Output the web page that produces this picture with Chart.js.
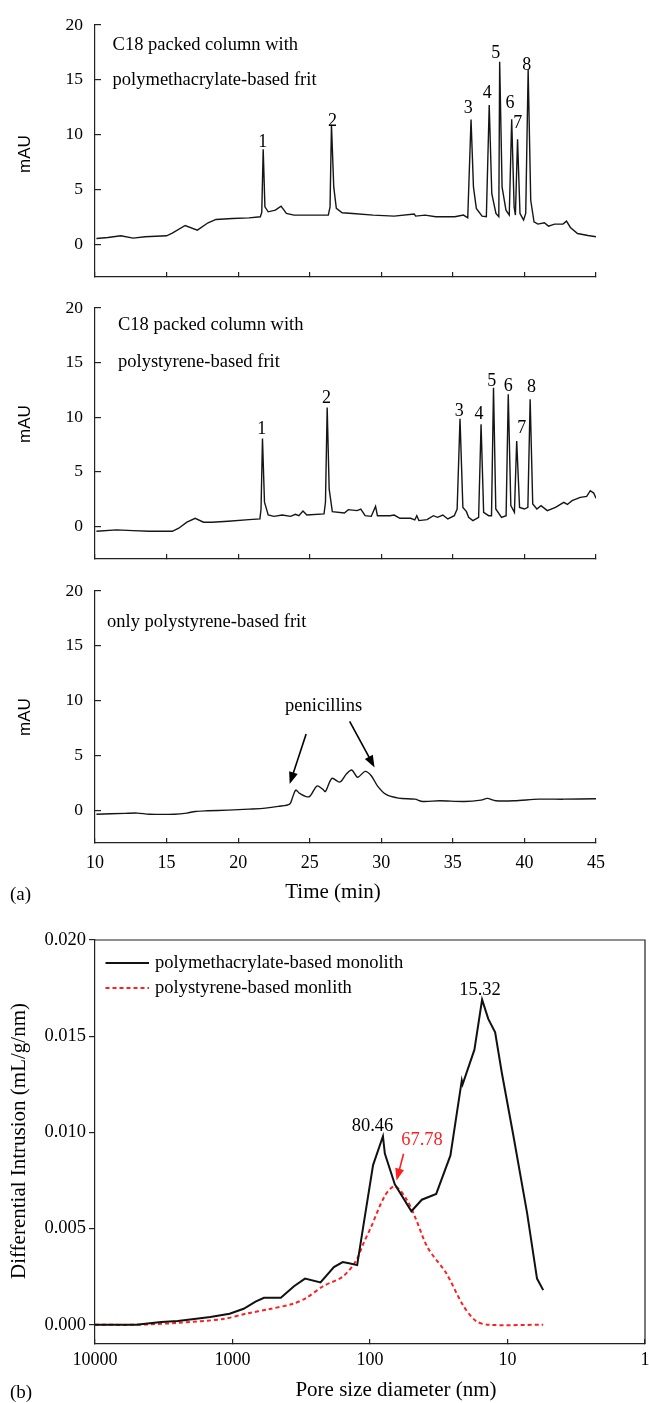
<!DOCTYPE html>
<html>
<head>
<meta charset="utf-8">
<title>Chromatograms and pore size distribution</title>
<script src="https://cdn.jsdelivr.net/npm/chart.js@4.4.0/dist/chart.umd.min.js"></script>
<style>
  body { margin: 0; background: #fff; }
  #page { position: relative; width: 649px; height: 1403px; }
  .panel { position: absolute; left: 0; width: 649px; }
</style>
</head>
<body>
<div id="page">
  <div class="panel" style="top:0px;height:290px"><canvas id="chartPMA"></canvas></div>
  <div class="panel" style="top:290px;height:285px"><canvas id="chartPS"></canvas></div>
  <div class="panel" style="top:575px;height:330px"><canvas id="chartFrit"></canvas></div>
  <div class="panel" style="top:905px;height:498px"><canvas id="chartPore"></canvas></div>
</div>
<script>
// ---- (a) chromatograms: time (min) vs absorbance (mAU) ----
const timeTicks = [10, 15, 20, 25, 30, 35, 40, 45];
const mauTicks = [0, 5, 10, 15, 20];

// C18 packed column with polymethacrylate-based frit
const timePMA = [10.1, 10.9, 11.8, 12.66, 13.5, 15.0, 15.4, 16.3, 17.15, 17.9, 18.45, 19.6, 20.76, 21.55, 21.65, 21.75, 21.87,
  22.1, 22.6, 23.0, 23.37, 23.9, 25.4, 26.3, 26.42, 26.52, 26.68, 26.86, 27.27, 28.0, 29.44, 30.9, 32.3, 32.4, 33.06, 33.8,
  35.14, 35.74, 36.04, 36.27, 36.44, 36.64, 37.04, 37.34, 37.54, 37.72, 38.01, 38.21, 38.27, 38.44, 38.71, 38.94, 39.11,
  39.28, 39.37, 39.52, 39.69, 39.94, 40.09, 40.26, 40.44, 40.67, 40.94, 41.39, 41.68, 42.11, 42.69, 42.94, 43.21, 43.71,
  44.44, 45.0];
const mauPMA = [0.52, 0.6, 0.76, 0.55, 0.67, 0.76, 1.0, 1.7, 1.28, 1.95, 2.25, 2.34, 2.4, 2.5, 2.9, 8.65, 3.4,
  2.95, 3.1, 3.47, 2.8, 2.65, 2.65, 2.65, 3.4, 10.9, 5.2, 3.26, 2.86, 2.8, 2.65, 2.56, 2.74, 2.56, 2.65, 2.5,
  2.5, 2.65, 2.4, 11.38, 5.2, 3.26, 2.56, 2.5, 12.7, 4.6, 2.8, 2.5, 16.65, 5.2, 3.1, 2.65, 11.4,
  3.4, 2.65, 9.56, 2.8, 2.2, 2.8, 15.9, 4.0, 2.04, 1.83, 1.95, 1.64, 1.83, 1.83, 2.1, 1.52, 0.97,
  0.79, 0.67];

// C18 packed column with polystyrene-based frit
const timePS = [10.1, 11.5, 12.66, 13.8, 15.4, 15.85, 16.42, 17.0, 17.58, 18.16, 19.3, 20.76, 21.52, 21.6, 21.7, 21.84,
  22.1, 22.5, 23.08, 23.66, 24.0, 24.24, 24.53, 24.8, 26.0, 26.1, 26.22, 26.36, 26.58, 27.42, 27.7, 28.3, 28.57, 28.87,
  29.3, 29.6, 29.73, 30.6, 30.9, 31.3, 32.05, 32.34, 32.48, 32.63, 33.2, 33.64, 33.93, 34.3, 34.65, 35.1, 35.3, 35.5,
  35.7, 35.95, 36.1, 36.4, 36.8, 36.97, 37.15, 37.5, 37.7, 37.84, 38.0, 38.4, 38.72, 38.87, 39.05, 39.3, 39.46, 39.66,
  40.0, 40.24, 40.4, 40.58, 40.87, 41.16, 41.6, 42.17, 42.75, 43.0, 43.33, 43.9, 44.35, 44.6, 44.84, 45.0];
const mauPS = [-0.46, -0.33, -0.4, -0.46, -0.46, -0.18, 0.37, 0.73, 0.37, 0.37, 0.46, 0.61, 0.67, 1.58, 8.05, 2.2,
  1.03, 0.91, 1.03, 0.91, 1.1, 0.97, 1.4, 1.03, 1.13, 2.2, 10.87, 3.4, 1.34, 1.22, 1.52, 1.43, 1.58, 0.97,
  0.91, 1.83, 0.97, 0.97, 1.03, 0.73, 0.73, 0.58, 0.97, 0.52, 0.61, 0.97, 0.82, 1.03, 0.67, 0.97, 1.58, 9.86,
  1.73, 1.34, 0.82, 0.52, 0.82, 9.35, 1.28, 0.97, 0.97, 12.7, 1.58, 0.82, 0.97, 12.09, 1.89, 1.28, 7.82, 1.73,
  1.58, 1.73, 11.63, 2.04, 1.58, 1.89, 1.43, 1.73, 2.19, 2.0, 2.34, 2.65, 2.74, 3.26, 3.04, 2.56];

// only polystyrene-based frit
const timeFrit = [10.1, 12.1, 12.95, 13.8, 15.56, 16.42, 17.0, 17.87, 19.3, 20.76, 21.9, 22.8, 23.6, 23.8, 24.03, 24.3,
  24.96, 25.5, 25.9, 26.1, 26.55, 27.1, 27.56, 27.94, 28.35, 28.87, 29.3, 29.73, 30.3, 31.2, 32.34, 32.9, 34.07, 35.8,
  36.97, 37.4, 38.0, 39.28, 41.0, 42.75, 45.0];
const mauFrit = [-0.37, -0.3, -0.27, -0.37, -0.37, -0.27, -0.12, -0.06, 0, 0.09, 0.18, 0.34, 0.55, 1.16, 1.83, 1.52,
  1.22, 2.2, 1.92, 1.7, 2.9, 2.56, 3.3, 3.66, 3.0, 3.54, 3.14, 2.22, 1.46, 1.1, 1.0, 0.79, 0.85, 0.79,
  0.91, 1.07, 0.85, 0.85, 1.0, 1.0, 1.04];

// ---- (b) pore size distribution ----
const poreTicks = [10000, 1000, 100, 10, 1];
const intrusionTicks = [0, 0.005, 0.010, 0.015, 0.020];

const porePMA = [10000, 5012, 3300, 2500, 1900, 1450, 1050, 830, 680, 590, 445, 357, 297, 229, 183, 158, 142, 124, 112,
  95, 80.5, 78, 66, 50, 42, 33, 26, 21.5, 21.2, 17.4, 15.3, 13.8, 12.3, 11.0, 9.1, 7.2, 6.1, 5.5];
const intrusionPMA = [0, 0, 0.00014, 0.0002, 0.0003, 0.0004, 0.00057, 0.00083, 0.0012, 0.0014, 0.0014, 0.0020, 0.0024,
  0.0022, 0.0030, 0.00326, 0.0032, 0.0031, 0.0051, 0.0083, 0.0098, 0.0089, 0.0073, 0.0059, 0.0065, 0.0068, 0.0088,
  0.0127, 0.0125, 0.0143, 0.0169, 0.0159, 0.0152, 0.0131, 0.0099, 0.0058, 0.0024, 0.0018];

const porePS = [10000, 5012, 2500, 1170, 770, 550, 360, 290, 220, 158, 127, 112, 98, 78, 66, 54, 47, 38, 28, 21, 17,
  13.8, 5.5];
const intrusionPS = [0, 0, 0.0001, 0.0003, 0.0006, 0.0008, 0.0011, 0.0014, 0.0020, 0.0025, 0.0033, 0.0042, 0.0051,
  0.0067, 0.0072, 0.0065, 0.0056, 0.0040, 0.0027, 0.0010, 0.0002, 0, 0];

Chart.defaults.font.family = 'Liberation Serif';
Chart.defaults.color = '#000';

const SERIF = '"Liberation Serif", "Times New Roman", serif';
const AXIS = '#222';

function toPoints(xs, ys) {
  return xs.map((x, i) => ({ x: x, y: ys[i] }));
}

// keep the plot area where the picture has it (no extra room for edge labels)
function noEdgePadding(s) {
  s.paddingLeft = 0;
  s.paddingRight = 0;
  s.paddingTop = 0;
  s.paddingBottom = 0;
}

function drawArrow(ctx, x1, y1, x2, y2, color) {
  const a = Math.atan2(y2 - y1, x2 - x1);
  const head = 12, half = 4.5;
  ctx.save();
  ctx.strokeStyle = color;
  ctx.fillStyle = color;
  ctx.lineWidth = 1.6;
  ctx.beginPath();
  ctx.moveTo(x1, y1);
  ctx.lineTo(x2 - head * 0.8 * Math.cos(a), y2 - head * 0.8 * Math.sin(a));
  ctx.stroke();
  const bx = x2 - head * Math.cos(a), by = y2 - head * Math.sin(a);
  ctx.beginPath();
  ctx.moveTo(x2, y2);
  ctx.lineTo(bx + half * Math.sin(a), by - half * Math.cos(a));
  ctx.lineTo(bx - half * Math.sin(a), by + half * Math.cos(a));
  ctx.closePath();
  ctx.fill();
  ctx.restore();
}

// texts / arrows / legend / frame drawn on top of a chart
// page positions (px, py) are converted to this canvas by removing the panel's top offset
function overlay(panelTop, cfg) {
  return {
    id: 'overlay',
    afterDraw(chart) {
      const ctx = chart.ctx;
      const xs = chart.scales.x, ys = chart.scales.y;
      const area = chart.chartArea;

      if (cfg.frame) {
        ctx.save();
        ctx.strokeStyle = AXIS;
        ctx.lineWidth = 1.2;
        ctx.beginPath();
        ctx.moveTo(area.left, area.top);
        ctx.lineTo(area.right, area.top);
        ctx.lineTo(area.right, area.bottom);
        ctx.stroke();
        ctx.restore();
      }

      (cfg.arrows || []).forEach(ar => {
        drawArrow(ctx, xs.getPixelForValue(ar.from[0]), ys.getPixelForValue(ar.from[1]),
          xs.getPixelForValue(ar.to[0]), ys.getPixelForValue(ar.to[1]), ar.color || '#000');
      });

      (cfg.texts || []).forEach(t => {
        let x, y;
        if (t.at) {
          x = xs.getPixelForValue(t.at[0]);
          y = ys.getPixelForValue(t.at[1]);
        } else {
          x = t.px;
          y = t.py - panelTop;
        }
        ctx.save();
        ctx.font = (t.size || 18) + 'px ' + (t.family || SERIF);
        ctx.fillStyle = t.color || '#000';
        ctx.textAlign = t.align || 'center';
        ctx.textBaseline = 'middle';
        ctx.translate(x, y);
        if (t.rotate) ctx.rotate(t.rotate);
        ctx.fillText(t.text, 0, 0);
        ctx.restore();
      });

      if (cfg.legend) {
        const lg = cfg.legend;
        chart.data.datasets.forEach((ds, i) => {
          const y = lg.py - panelTop + i * lg.gap;
          ctx.save();
          ctx.strokeStyle = ds.borderColor;
          ctx.lineWidth = ds.borderWidth;
          ctx.setLineDash(ds.borderDash || []);
          ctx.beginPath();
          ctx.moveTo(lg.px, y);
          ctx.lineTo(lg.px + lg.len, y);
          ctx.stroke();
          ctx.setLineDash([]);
          ctx.font = '18.5px ' + SERIF;
          ctx.fillStyle = '#000';
          ctx.textAlign = 'left';
          ctx.textBaseline = 'middle';
          ctx.fillText(ds.label, lg.px + lg.len + 6, y);
          ctx.restore();
        });
      }
    }
  };
}

function chromChart(id, panelTop, times, values, setup) {
  return new Chart(document.getElementById(id), {
    type: 'line',
    data: {
      datasets: [{
        label: setup.name,
        data: toPoints(times, values),
        borderColor: '#151515',
        borderWidth: 1.4,
        pointRadius: 0,
        tension: setup.tension || 0,
        fill: false
      }]
    },
    options: {
      responsive: true,
      maintainAspectRatio: false,
      animation: false,
      layout: { padding: { top: setup.padTop, right: 53, left: 0, bottom: 0 } },
      plugins: { legend: { display: false }, tooltip: { enabled: false } },
      scales: {
        x: {
          type: 'linear',
          min: 10,
          max: 45,
          afterBuildTicks: s => { s.ticks = timeTicks.map(v => ({ value: v })); },
          afterFit: s => { s.height = setup.xHeight; noEdgePadding(s); },
          grid: { drawOnChartArea: false, drawTicks: true, tickLength: -5, color: AXIS, lineWidth: 1.2 },
          border: { display: true, color: AXIS, width: 1.2 },
          ticks: { display: setup.timeLabels, padding: 14, autoSkip: false, maxRotation: 0,
                   font: { size: 18 }, color: '#000' }
        },
        y: {
          min: -3,
          max: 20,
          afterBuildTicks: s => { s.ticks = mauTicks.map(v => ({ value: v })); },
          afterFit: s => { s.width = 95; noEdgePadding(s); },
          grid: { drawOnChartArea: false, drawTicks: true, tickLength: -6, color: AXIS, lineWidth: 1.2 },
          border: { display: true, color: AXIS, width: 1.2 },
          ticks: { padding: 18, font: { size: 17.5 }, color: '#000' }
        }
      }
    },
    plugins: [overlay(panelTop, setup.overlay)]
  });
}

const rotUp = -Math.PI / 2;

chromChart('chartPMA', 0, timePMA, mauPMA, {
  name: 'C18 packed column with polymethacrylate-based frit',
  padTop: 25, xHeight: 13, timeLabels: false,
  overlay: {
    texts: [
      { text: 'C18 packed column with', px: 112.6, py: 45, align: 'left', size: 18.5 },
      { text: 'polymethacrylate-based frit', px: 112.6, py: 80, align: 'left', size: 18.5 },
      { text: 'mAU', px: 25, py: 154, rotate: rotUp, size: 17, family: '"Liberation Sans", Arial, sans-serif' },
      { text: '1', at: [21.72, 9.3] }, { text: '2', at: [26.6, 11.2] }, { text: '3', at: [36.07, 12.4] },
      { text: '4', at: [37.4, 13.8] }, { text: '5', at: [38.0, 17.4] }, { text: '6', at: [39.0, 12.9] },
      { text: '7', at: [39.54, 11.0] }, { text: '8', at: [40.17, 16.35] }
    ]
  }
});

chromChart('chartPS', 290, timePS, mauPS, {
  name: 'C18 packed column with polystyrene-based frit',
  padTop: 18, xHeight: 16, timeLabels: false,
  overlay: {
    texts: [
      { text: 'C18 packed column with', px: 118, py: 325, align: 'left', size: 18.5 },
      { text: 'polystyrene-based frit', px: 118, py: 362, align: 'left', size: 18.5 },
      { text: 'mAU', px: 25, py: 424, rotate: rotUp, size: 17, family: '"Liberation Sans", Arial, sans-serif' },
      { text: '1', at: [21.65, 8.9] }, { text: '2', at: [26.17, 11.7] }, { text: '3', at: [35.44, 10.5] },
      { text: '4', at: [36.83, 10.3] }, { text: '5', at: [37.72, 13.3] }, { text: '6', at: [38.87, 12.8] },
      { text: '7', at: [39.82, 9.0] }, { text: '8', at: [40.5, 12.7] }
    ]
  }
});

chromChart('chartFrit', 575, timeFrit, mauFrit, {
  name: 'only polystyrene-based frit',
  padTop: 16, xHeight: 62, timeLabels: true, tension: 0.3,
  overlay: {
    texts: [
      { text: 'only polystyrene-based frit', px: 107, py: 622, align: 'left', size: 18.5 },
      { text: 'mAU', px: 25, py: 717, rotate: rotUp, size: 17, family: '"Liberation Sans", Arial, sans-serif' },
      { text: 'penicillins', at: [25.97, 9.48], size: 18.5 },
      { text: 'Time (min)', px: 333, py: 892, size: 21 },
      { text: '(a)', px: 10, py: 895, align: 'left', size: 19 }
    ],
    arrows: [
      { from: [24.75, 6.95], to: [23.6, 2.38] },
      { from: [27.79, 8.11], to: [29.53, 3.9] }
    ]
  }
});

new Chart(document.getElementById('chartPore'), {
  type: 'line',
  data: {
    datasets: [{
      label: 'polymethacrylate-based monolith',
      data: toPoints(porePMA, intrusionPMA),
      borderColor: '#111',
      borderWidth: 2,
      pointRadius: 0,
      tension: 0
    }, {
      label: 'polystyrene-based monlith',
      data: toPoints(porePS, intrusionPS),
      borderColor: '#ff1f1f',
      borderWidth: 2,
      borderDash: [4, 3],
      pointRadius: 0,
      tension: 0.3
    }]
  },
  options: {
    responsive: true,
    maintainAspectRatio: false,
    animation: false,
    layout: { padding: { top: 35, right: 4, left: 0, bottom: 0 } },
    plugins: { legend: { display: false }, tooltip: { enabled: false } },
    scales: {
      x: {
        type: 'logarithmic',
        reverse: true,
        min: 1,
        max: 10000,
        afterBuildTicks: s => { s.ticks = poreTicks.map(v => ({ value: v })); },
        afterFit: s => { s.height = 59; noEdgePadding(s); },
        grid: { drawOnChartArea: false, drawTicks: true, tickLength: -5, color: AXIS, lineWidth: 1.2 },
        border: { display: true, color: AXIS, width: 1.2 },
        ticks: { padding: 10, autoSkip: false, maxRotation: 0, font: { size: 18 }, color: '#000',
                 callback: v => String(v) }
      },
      y: {
        min: -0.001,
        max: 0.020,
        afterBuildTicks: s => { s.ticks = intrusionTicks.map(v => ({ value: v })); },
        afterFit: s => { s.width = 95; noEdgePadding(s); },
        grid: { drawOnChartArea: false, drawTicks: true, tickLength: 6, color: AXIS, lineWidth: 1.2 },
        border: { display: true, color: AXIS, width: 1.2 },
        ticks: { padding: 3, font: { size: 18.5 }, color: '#000', callback: v => v.toFixed(3) }
      }
    }
  },
  plugins: [overlay(905, {
    frame: true,
    legend: { px: 105.5, py: 963, len: 43.5, gap: 25 },
    texts: [
      { text: '15.32', at: [15.85, 0.0174], size: 18.5 },
      { text: '80.46', at: [96, 0.0103], size: 18.5 },
      { text: '67.78', at: [41.9, 0.00958], size: 18.5, color: '#ff1f1f' },
      { text: 'Pore size diameter (nm)', px: 396, py: 1390, size: 21 },
      { text: 'Differential Intrusion (mL/g/nm)', px: 19, py: 1141, rotate: rotUp, size: 21 },
      { text: '(b)', px: 10, py: 1393, align: 'left', size: 19 }
    ],
    arrows: [
      { from: [57.0, 0.00889], to: [64.1, 0.0075], color: '#ff1f1f' }
    ]
  })]
});
</script>
</body>
</html>
